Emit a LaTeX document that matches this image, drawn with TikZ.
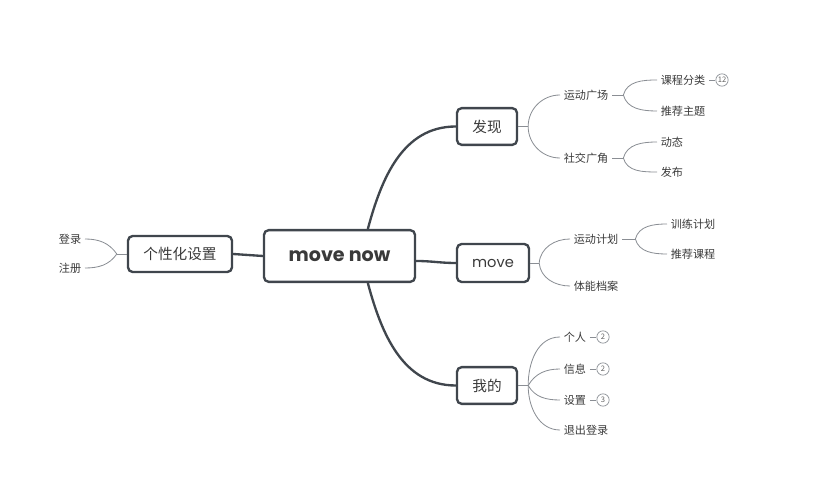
\documentclass[tikz,border=0pt]{standalone}
\usepackage{fontspec}
\setmainfont{Noto Sans CJK SC}
\newfontfamily\latinfont{Poppins}
\usetikzlibrary{positioning}
\definecolor{edge}{HTML}{40464D}
\definecolor{twiggray}{HTML}{8A8E94}
\definecolor{ink}{HTML}{3A3A3A}
\tikzset{topic/.style={draw=edge, line width=2pt, rounded corners=4pt, fill=white, text=ink, inner sep=0pt, font=\fontsize{12.5}{14}\selectfont}}
\tikzset{leaf/.style={text=ink, inner sep=3pt, font=\fontsize{9.5}{11}\selectfont}}
\tikzset{badge/.style={circle, draw=twiggray, line width=0.6pt, inner sep=0pt, minimum size=0.37cm, text=ink!80, font=\fontsize{6.5}{7}\selectfont}}
\tikzset{trunk/.style={draw=edge, line width=2pt}}
\tikzset{twig/.style={draw=twiggray, line width=0.7pt}}

\begin{document}
\begin{tikzpicture}[x=0.03cm, y=0.03cm]
\useasboundingbox (0,0) rectangle (826,-488);
% main topics
\node (root) at (339.5,-256) [topic, minimum width=4.53cm, minimum height=1.55cm, font=\latinfont\bfseries\fontsize{16.3}{19}\selectfont] {move now};
\node (find) at (487,-126.5) [topic, minimum width=1.8cm, minimum height=1.1cm] {发现};
\node (move) at (493,-263) [topic, minimum width=2.16cm, minimum height=1.14cm, font=\latinfont\fontsize{12.5}{14}\selectfont] {move};
\node (me) at (487,-385.5) [topic, minimum width=1.8cm, minimum height=1.1cm] {我的};
\node (pers) at (180,-254) [topic, minimum width=3.12cm, minimum height=1.08cm] {个性化设置};
\draw[trunk] ([xshift=0.85cm]root.north) to[out=75,in=180] (find.west);
\draw[trunk] ([yshift=-0.15cm]root.east) to[out=0,in=180] (move.west);
\draw[trunk] ([xshift=0.85cm]root.south) to[out=-75,in=180] (me.west);
\draw[trunk] (root.west) -- (pers.east);

% left: 个性化设置
\node (login) at (85,-239) [leaf, anchor=east] {登录};
\node (signup) at (85,-268) [leaf, anchor=east] {注册};
\coordinate (persJ) at ([xshift=-0.3cm]pers.west);
\draw[twig] (pers.west) -- (persJ);
\draw[twig] (persJ) to[out=125,in=0] (login.east);
\draw[twig] (persJ) to[out=-125,in=0] (signup.east);

% 发现
\node (square) at (560,-95) [leaf, anchor=west] {运动广场};
\node (social) at (560,-158) [leaf, anchor=west] {社交广角};
\coordinate (findJ) at ([xshift=0.3cm]find.east);
\draw[twig] (find.east) -- (findJ);
\draw[twig] (findJ) to[out=90,in=180] (square.west);
\draw[twig] (findJ) to[out=-90,in=180] (social.west);

\node (course) at (657,-80) [leaf, anchor=west] {课程分类};
\node (theme) at (657,-111) [leaf, anchor=west] {推荐主题};
\node (cnt) at (722,-80) [badge] {12};
\draw[twig] (course.east) -- (cnt);
\coordinate (squareJ) at ([xshift=0.34cm]square.east);
\draw[twig] (square.east) -- (squareJ);
\draw[twig] (squareJ) to[out=75,in=180] (course.west);
\draw[twig] (squareJ) to[out=-75,in=180] (theme.west);

\node (feed) at (657,-142) [leaf, anchor=west] {动态};
\node (post) at (657,-172) [leaf, anchor=west] {发布};
\coordinate (socialJ) at ([xshift=0.34cm]social.east);
\draw[twig] (social.east) -- (socialJ);
\draw[twig] (socialJ) to[out=75,in=180] (feed.west);
\draw[twig] (socialJ) to[out=-75,in=180] (post.west);

% move
\node (plan) at (570,-239) [leaf, anchor=west] {运动计划};
\node (record) at (570,-286) [leaf, anchor=west] {体能档案};
\coordinate (moveJ) at ([xshift=0.27cm]move.east);
\draw[twig] (move.east) -- (moveJ);
\draw[twig] (moveJ) to[out=85,in=180] (plan.west);
\draw[twig] (moveJ) to[out=-85,in=180] (record.west);

\node (train) at (667,-224) [leaf, anchor=west] {训练计划};
\node (lesson) at (667,-254) [leaf, anchor=west] {推荐课程};
\coordinate (planJ) at ([xshift=0.4cm]plan.east);
\draw[twig] (plan.east) -- (planJ);
\draw[twig] (planJ) to[out=75,in=180] (train.west);
\draw[twig] (planJ) to[out=-75,in=180] (lesson.west);

% 我的
\node (me1) at (560,-337) [leaf, anchor=west] {个人};
\node (me2) at (560,-369) [leaf, anchor=west] {信息};
\node (me3) at (560,-400) [leaf, anchor=west] {设置};
\node (me4) at (560,-430) [leaf, anchor=west] {退出登录};
\coordinate (meJ) at ([xshift=0.3cm]me.east);
\draw[twig] (me.east) -- (meJ);
\foreach \c/\a in {me1/90, me2/60, me3/-60, me4/-90}
  \draw[twig] (meJ) to[out=\a,in=180] (\c.west);
\node (n1) at (603,-337) [badge] {2};
\node (n2) at (603,-369) [badge] {2};
\node (n3) at (603,-400) [badge] {3};
\foreach \c/\n in {me1/n1, me2/n2, me3/n3}
  \draw[twig] (\c.east) -- (\n);
\end{tikzpicture}
\end{document}
